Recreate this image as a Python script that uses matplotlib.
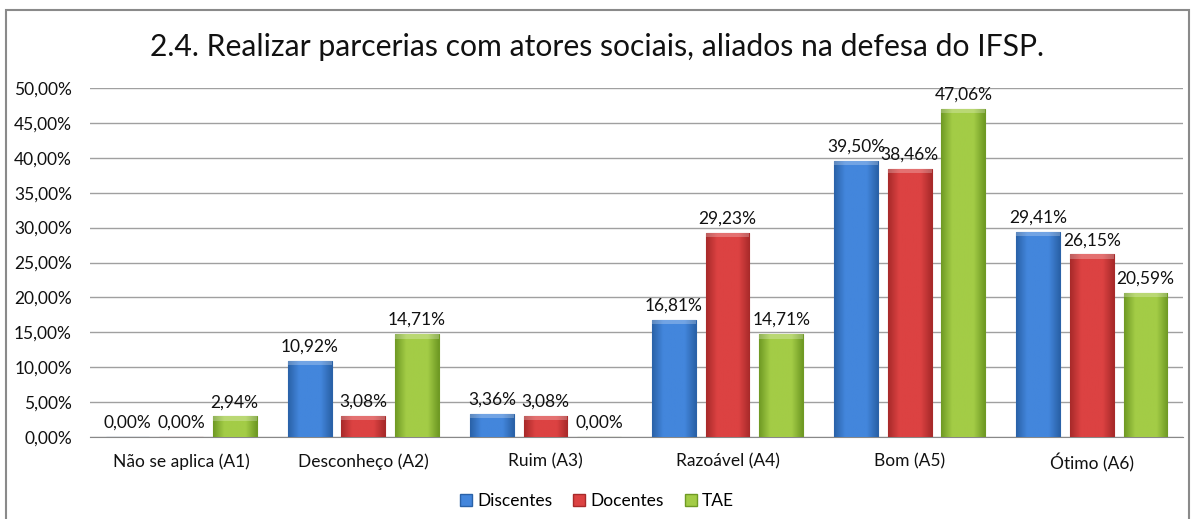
import matplotlib
matplotlib.use("Agg")
import matplotlib.pyplot as plt
import numpy as np
from matplotlib.patches import Rectangle
from matplotlib.colors import LinearSegmentedColormap

categories = ["Não se aplica (A1)", "Desconheço (A2)", "Ruim (A3)", "Razoável (A4)", "Bom (A5)", "Ótimo (A6)"]
series_names = ["Discentes", "Docentes", "TAE"]
discentes = [0.00, 10.92, 3.36, 16.81, 39.50, 29.41]
docentes = [0.00, 3.08, 3.08, 29.23, 38.46, 26.15]
tae = [2.94, 14.71, 0.00, 14.71, 47.06, 20.59]
title = "2.4. Realizar parcerias com atores sociais, aliados na defesa do IFSP."

colors = [("#2a62a8", "#4386dc"), ("#a82a2a", "#dc4242"), ("#6f9a24", "#a3cc46")]

plt.rcParams['font.family'] = ['Lato', 'DejaVu Sans']
FS = 12.5

fig = plt.figure(figsize=(11.94, 5.19), dpi=100)
ax = fig.add_axes([90/1194, 1-437/519, (1183-90)/1194, (437-88)/519])

x = np.arange(len(categories))
bw = 0.24
step = 0.294
data = [discentes, docentes, tae]

def fmt(v):
    return f"{v:.2f}".replace(".", ",") + "%"

handles = []
for i, (vals, name, (dark, light)) in enumerate(zip(data, series_names, colors)):
    bars = ax.bar(x + (i-1)*step, vals, bw, color=light, edgecolor=dark, linewidth=0.8, label=name, zorder=3)
    cmap = LinearSegmentedColormap.from_list("g", [dark, light, light, light, dark])
    for b, v in zip(bars, vals):
        if v > 0:
            x0, w, h = b.get_x(), b.get_width(), b.get_height()
            grad = np.linspace(0, 1, 64).reshape(1, -1)
            im = ax.imshow(grad, cmap=cmap, extent=[x0, x0+w, 0, h], aspect='auto', zorder=3.5)
            im.set_clip_path(b)
            ax.add_patch(Rectangle((x0, h - 0.6), w, 0.6, facecolor="white", alpha=0.25, edgecolor='none', zorder=3.6))
        ax.text(b.get_x() + b.get_width()/2, v + 0.9, fmt(v), ha='center', va='bottom', fontsize=FS, color='#111111', zorder=5)
    handles.append(Rectangle((0, 0), 1, 1, facecolor=light, edgecolor=dark))

ax.set_xlim(-0.5, len(categories)-0.5)
ax.set_ylim(0, 50)
ax.set_yticks(np.arange(0, 50.1, 5))
ax.set_yticklabels([fmt(v) for v in np.arange(0, 50.1, 5)], fontsize=FS)
ax.set_xticks(x)
ax.set_xticklabels(categories, fontsize=FS)
ax.tick_params(axis='y', length=0, pad=13, colors='#111111')
ax.tick_params(axis='x', length=0, pad=12, colors='#111111')
ax.grid(axis='y', color='#a0a0a0', linewidth=1, zorder=0)
for s in ['top', 'right', 'left']:
    ax.spines[s].set_visible(False)
ax.spines['bottom'].set_color('#888888')

fig.text(0.5, 1-47/519, title, ha='center', va='center', fontsize=21.7, color='#111111')

fig.legend(handles, series_names, loc='center', bbox_to_anchor=(0.5, 1-501/519), ncol=3, frameon=False,
           fontsize=FS, handlelength=0.7, handleheight=0.7, handletextpad=0.3, columnspacing=1.2)

fig.patches.append(Rectangle((6/1194, -0.05), (1189-6)/1194, 1.05-10/519, transform=fig.transFigure,
                             facecolor='none', edgecolor='#8a8a8a', linewidth=1.5))

fig.savefig("out.png", dpi=100)
